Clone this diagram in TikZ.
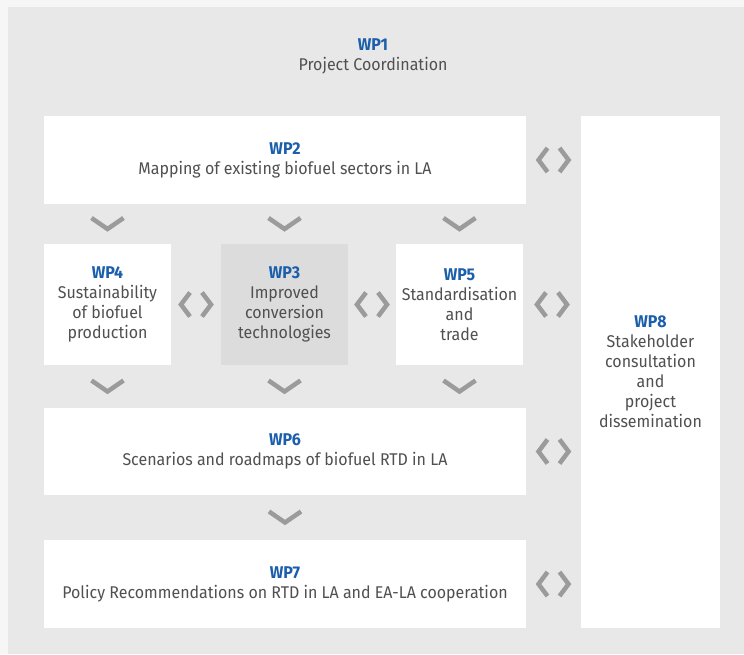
\documentclass[tikz,border=0pt]{standalone}
\usepackage{fontspec}
\setmainfont{Fira Sans}[FakeStretch=0.94]
\usetikzlibrary{calc}
\definecolor{panel}{HTML}{E8E8E8}
\definecolor{bgc}{HTML}{F6F6F6}
\definecolor{wpblue}{HTML}{1B5EAB}
\definecolor{txt}{HTML}{505050}
\definecolor{arrowgray}{HTML}{9B9B9B}
\definecolor{hl}{HTML}{DCDCDC}
\newcommand\wplab[1]{{\bfseries\color{wpblue}#1}}
\begin{document}
\begin{tikzpicture}[x=1pt,y=-1pt,
  box/.style={fill=white, inner sep=0pt, align=center, text=txt, font=\fontsize{17}{20}\selectfont},
  hlbox/.style={box, fill=hl},
  arr/.style={draw=arrowgray, line width=4.5pt, line join=miter},
  chevdown/.pic={\draw[arr] (-16,-6) -- (0,5) -- (16,-6);},
  pairlr/.pic={\draw[arr] (-6,-12) -- (-15,0) -- (-6,12); \draw[arr] (6,-12) -- (15,0) -- (6,12);}
]
\fill[bgc] (0,0) rectangle (744,654);
\useasboundingbox (0,0) rectangle (744,654);
\fill[panel] (8,7) rectangle (744,654);

\node[align=center, text=txt, font=\fontsize{17}{20}\selectfont] (wp1) at (373,56) {\wplab{WP1}\\Project Coordination};

\node[box, minimum width=482pt, minimum height=88pt] (wp2) at (285,160) {\wplab{WP2}\\Mapping of existing biofuel sectors in LA};
\node[box, minimum width=127pt, minimum height=121pt] (wp4) at (107.5,304.5) {\wplab{WP4}\\Sustainability\\of biofuel\\production};
\node[hlbox, minimum width=127pt, minimum height=121pt] (wp3) at (284.5,304.5) {\wplab{WP3}\\Improved\\conversion\\technologies};
\node[box, minimum width=127pt, minimum height=121pt] (wp5) at (459.5,304.5) {\wplab{WP5}\\Standardisation\\and\\trade};
\node[box, minimum width=482pt, minimum height=87pt] (wp6) at (285,451.5) {\wplab{WP6}\\Scenarios and roadmaps of biofuel RTD in LA};
\node[box, minimum width=482pt, minimum height=88pt] (wp7) at (285,584) {\wplab{WP7}\\Policy Recommendations on RTD in LA and EA-LA cooperation};
\node[box, minimum width=139pt, minimum height=512pt] (wp8) at (650.5,372) {\wplab{WP8}\\Stakeholder\\consultation\\and\\project\\dissemination};

\pic at ($(wp4.north)!0.5!(wp4.north |- wp2.south)$) {chevdown};
\pic at ($(wp3.north)!0.5!(wp3.north |- wp2.south)$) {chevdown};
\pic at ($(wp5.north)!0.5!(wp5.north |- wp2.south)$) {chevdown};
\pic at ($(wp4.south)!0.5!(wp4.south |- wp6.north)$) {chevdown};
\pic at ($(wp3.south)!0.5!(wp3.south |- wp6.north)$) {chevdown};
\pic at ($(wp5.south)!0.5!(wp5.south |- wp6.north)$) {chevdown};
\pic at ($(wp6.south)!0.5!(wp7.north)$) {chevdown};

\pic at ($(wp4.east)!0.5!(wp3.west)$) {pairlr};
\pic at ($(wp3.east)!0.5!(wp5.west)$) {pairlr};
\pic at ($(wp2.east)!0.5!(wp2.east -| wp8.west)$) {pairlr};
\pic at ($(wp5.east)!0.5!(wp5.east -| wp8.west)$) {pairlr};
\pic at ($(wp6.east)!0.5!(wp6.east -| wp8.west)$) {pairlr};
\pic at ($(wp7.east)!0.5!(wp7.east -| wp8.west)$) {pairlr};
\end{tikzpicture}
\end{document}
